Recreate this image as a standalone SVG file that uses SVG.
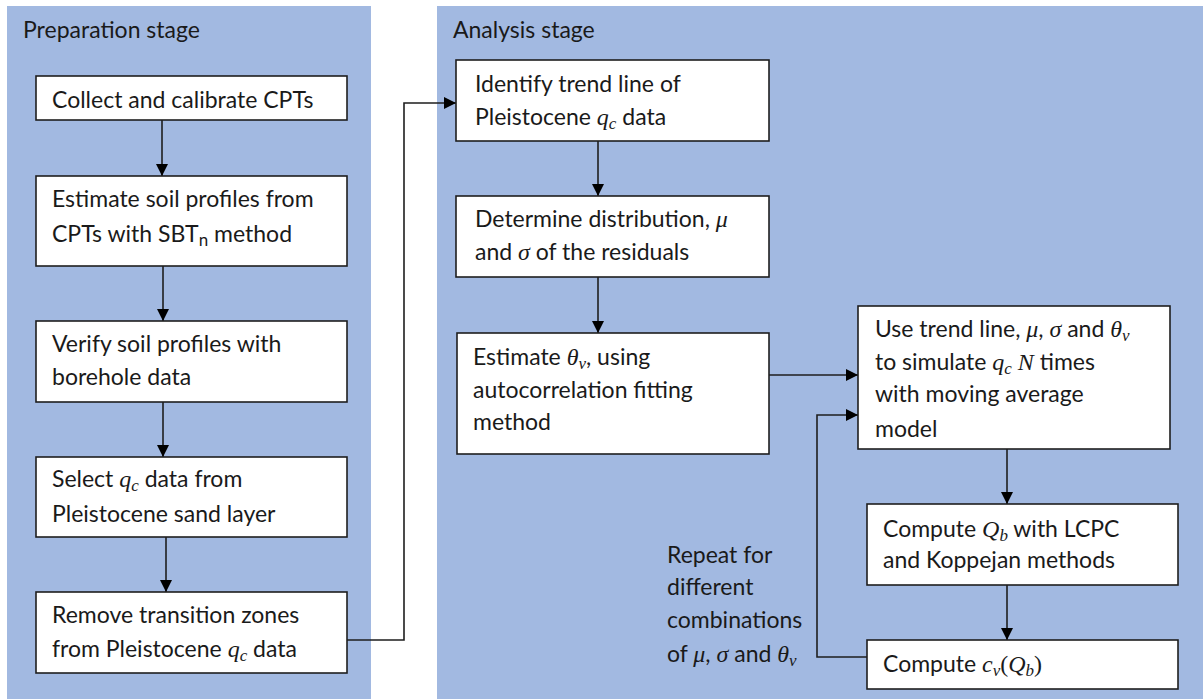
<svg xmlns="http://www.w3.org/2000/svg" width="1203" height="699" viewBox="0 0 1203 699">
<style>
.panel{fill:#a2b9e1}
.box{fill:#ffffff;stroke:#1e1e1e;stroke-width:1.6}
.t{font-family:Lato,"Open Sans",sans-serif;font-size:23px;fill:#1a1a1a}
.m{font-family:"Liberation Serif","DejaVu Serif",serif;font-style:italic;font-size:24px}
.mu{font-family:"Liberation Serif","DejaVu Serif",serif;font-size:24px}
.s{font-size:17px}
.c{fill:none;stroke:#1e1e1e;stroke-width:1.6}
</style>
<defs>
<marker id="ah" markerUnits="userSpaceOnUse" markerWidth="12" markerHeight="12" viewBox="0 0 12 12" refX="12" refY="6" orient="auto">
<path d="M0,0 L12,6 L0,12 Z" fill="#000"/>
</marker>
</defs>
<rect class="panel" x="7" y="6" width="364" height="693"/>
<rect class="panel" x="437" y="6" width="766" height="693"/>
<text class="t" x="23" y="38">Preparation stage</text>
<text class="t" x="453" y="38">Analysis stage</text>

<g id="connectors">
<line class="c" x1="162" y1="120" x2="162" y2="176" marker-end="url(#ah)"/>
<line class="c" x1="163" y1="266" x2="163" y2="321" marker-end="url(#ah)"/>
<line class="c" x1="163" y1="402" x2="163" y2="457" marker-end="url(#ah)"/>
<line class="c" x1="166" y1="537" x2="166" y2="592" marker-end="url(#ah)"/>
<polyline class="c" points="347,640 404,640 404,103 456,103" marker-end="url(#ah)"/>
<line class="c" x1="598" y1="141" x2="598" y2="196" marker-end="url(#ah)"/>
<line class="c" x1="598" y1="277" x2="598" y2="333" marker-end="url(#ah)"/>
<line class="c" x1="769" y1="375" x2="858" y2="375" marker-end="url(#ah)"/>
<polyline class="c" points="867,657 817,657 817,415 858,415" marker-end="url(#ah)"/>
<line class="c" x1="1007" y1="449" x2="1007" y2="504" marker-end="url(#ah)"/>
<line class="c" x1="1007" y1="585" x2="1007" y2="640" marker-end="url(#ah)"/>
</g>

<g id="n1">
<rect class="box" x="36" y="76" width="311" height="44"/>
<text class="t" x="52" y="108">Collect and calibrate CPTs</text>
</g>
<g id="n2">
<rect class="box" x="36" y="176" width="311" height="90"/>
<text class="t" x="52" y="207">Estimate soil profiles from</text>
<text class="t" x="52" y="242">CPTs with SBT<tspan class="s" dy="4">n</tspan><tspan dy="-4"> method</tspan></text>
</g>
<g id="n3">
<rect class="box" x="36" y="321" width="311" height="81"/>
<text class="t" x="52" y="352">Verify soil profiles with</text>
<text class="t" x="52" y="385">borehole data</text>
</g>
<g id="n4">
<rect class="box" x="36" y="457" width="311" height="80"/>
<text class="t" x="52" y="487">Select <tspan class="m">q</tspan><tspan class="m s" dy="4">c</tspan><tspan dy="-4"> data from</tspan></text>
<text class="t" x="52" y="522">Pleistocene sand layer</text>
</g>
<g id="n5">
<rect class="box" x="36" y="592" width="311" height="81"/>
<text class="t" x="52" y="623">Remove transition zones</text>
<text class="t" x="52" y="657">from Pleistocene <tspan class="m">q</tspan><tspan class="m s" dy="4">c</tspan><tspan dy="-4"> data</tspan></text>
</g>
<g id="n6">
<rect class="box" x="456" y="60" width="313" height="81"/>
<text class="t" x="475" y="92">Identify trend line of</text>
<text class="t" x="475" y="125">Pleistocene <tspan class="m">q</tspan><tspan class="m s" dy="4">c</tspan><tspan dy="-4"> data</tspan></text>
</g>
<g id="n7">
<rect class="box" x="456" y="196" width="313" height="81"/>
<text class="t" x="475" y="227">Determine distribution, <tspan class="m">μ</tspan></text>
<text class="t" x="475" y="260">and <tspan class="m">σ</tspan> of the residuals</text>
</g>
<g id="n8">
<rect class="box" x="457" y="333" width="312" height="121"/>
<text class="t" x="473" y="365">Estimate <tspan class="m">θ</tspan><tspan class="m s" dy="4">v</tspan><tspan dy="-4">, using</tspan></text>
<text class="t" x="473" y="398">autocorrelation fitting</text>
<text class="t" x="473" y="430">method</text>
</g>
<g id="n9">
<rect class="box" x="858" y="306" width="312" height="143"/>
<text class="t" x="875" y="337">Use trend line, <tspan class="m">μ</tspan>, <tspan class="m">σ</tspan> and <tspan class="m">θ</tspan><tspan class="m s" dy="4">v</tspan></text>
<text class="t" x="875" y="370">to simulate <tspan class="m">q</tspan><tspan class="m s" dy="4">c</tspan><tspan class="m" dy="-4"> N</tspan> times</text>
<text class="t" x="875" y="402">with moving average</text>
<text class="t" x="875" y="437">model</text>
</g>
<g id="n10">
<rect class="box" x="867" y="504" width="311" height="81"/>
<text class="t" x="883" y="537">Compute <tspan class="m">Q</tspan><tspan class="m s" dy="4">b</tspan><tspan dy="-4"> with LCPC</tspan></text>
<text class="t" x="883" y="568">and Koppejan methods</text>
</g>
<g id="n11">
<rect class="box" x="867" y="640" width="311" height="49"/>
<text class="t" x="883" y="672">Compute <tspan class="m">c</tspan><tspan class="m s" dy="4">v</tspan><tspan class="mu" dy="-4">(</tspan><tspan class="m">Q</tspan><tspan class="m s" dy="4">b</tspan><tspan class="mu" dy="-4">)</tspan></text>
</g>
<g id="loop-label">
<text class="t" x="667" y="563">Repeat for</text>
<text class="t" x="667" y="595">different</text>
<text class="t" x="667" y="628">combinations</text>
<text class="t" x="667" y="662">of <tspan class="m">μ</tspan>, <tspan class="m">σ</tspan> and <tspan class="m">θ</tspan><tspan class="m s" dy="4">v</tspan></text>
</g>
</svg>
